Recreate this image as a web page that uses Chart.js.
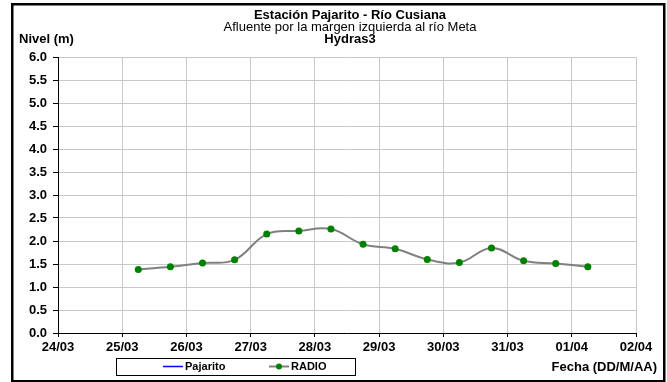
<!DOCTYPE html>
<html>
<head>
<meta charset="utf-8">
<script src="https://cdn.jsdelivr.net/npm/chart.js@4.4.1/dist/chart.umd.min.js"></script>
<style>
  html, body { margin: 0; padding: 0; background: #fff; }
  #wrap { width: 667px; height: 382px; position: relative; }
</style>
</head>
<body>
<div id="wrap"><canvas id="chart"></canvas></div>
<script>
const FONT = '"Liberation Sans", Arial, sans-serif';

// x axis: one tick per day, days counted from 24/03
const dayLabels = ["24/03", "25/03", "26/03", "27/03", "28/03", "29/03", "30/03", "31/03", "01/04", "02/04"];

// RADIO readings every 12 h (06:00 and 18:00), in days since 24/03
const radioDays = [1.25, 1.75, 2.25, 2.75, 3.25, 3.75, 4.25, 4.75, 5.25, 5.75, 6.25, 6.75, 7.25, 7.75, 8.25];
const radioLevel = [1.38, 1.44, 1.52, 1.59, 2.15, 2.22, 2.26, 1.93, 1.83, 1.60, 1.53, 1.85, 1.57, 1.51, 1.44];

// Pajarito has no readings in this window
const pajaritoLevel = [];

const titleLines = [
  { text: "Estación Pajarito - Río Cusiana", bold: true },
  { text: "Afluente por la margen izquierda al río Meta", bold: false },
  { text: "Hydras3", bold: true },
];
const yTitle = "Nivel (m)";
const xTitle = "Fecha (DD/M/AA)";

const COLORS = {
  pajarito: "#0000ff",
  radioLine: "#808080",
  radioPoint: "#008000",
  grid: "#c8c8c8",
  axis: "#000",
};

const decor = {
  id: "decor",
  afterDraw(chart) {
    const ctx = chart.ctx;
    ctx.save();
    ctx.fillStyle = "#000";
    ctx.textBaseline = "middle";

    // titles
    ctx.textAlign = "center";
    titleLines.forEach((l, i) => {
      ctx.font = (l.bold ? "bold " : "") + "13px " + FONT;
      ctx.fillText(l.text, 350, 15 + i * 12);
    });

    ctx.font = "bold 13px " + FONT;
    ctx.textAlign = "left";
    ctx.fillText(yTitle, 19, 39);
    ctx.textAlign = "right";
    ctx.fillText(xTitle, 657, 367);

    // legend box
    ctx.strokeStyle = "#000";
    ctx.lineWidth = 1;
    ctx.strokeRect(116.5, 358.5, 239, 17);

    const ds = chart.data.datasets;
    const slots = [163, 269];
    ctx.font = "bold 11px " + FONT;
    ctx.textAlign = "left";
    ds.forEach((d, i) => {
      const x0 = slots[i];
      ctx.strokeStyle = d.borderColor;
      ctx.lineWidth = i === 0 ? 1.5 : 2;
      ctx.beginPath();
      ctx.moveTo(x0, 366.5);
      ctx.lineTo(x0 + 20, 366.5);
      ctx.stroke();
      if (d.pointRadius) {
        ctx.fillStyle = d.pointBackgroundColor;
        ctx.beginPath();
        ctx.arc(x0 + 10, 366.5, 3, 0, Math.PI * 2);
        ctx.fill();
      }
      ctx.fillStyle = "#000";
      ctx.fillText(d.label, x0 + 22, 367);
    });

    // outer frame
    ctx.strokeStyle = "#000";
    ctx.lineWidth = 2.5;
    ctx.strokeRect(12.25, 4.25, 652, 377);
    ctx.restore();
  },
};

new Chart(document.getElementById("chart"), {
  type: "line",
  data: {
    datasets: [
      {
        label: "Pajarito",
        data: pajaritoLevel,
        borderColor: COLORS.pajarito,
        borderWidth: 1.5,
        pointRadius: 0,
      },
      {
        label: "RADIO",
        data: radioDays.map((d, i) => ({ x: d, y: radioLevel[i] })),
        borderColor: COLORS.radioLine,
        borderWidth: 2,
        tension: 0.4,
        pointRadius: 3.5,
        pointBackgroundColor: COLORS.radioPoint,
        pointBorderColor: COLORS.radioPoint,
        pointBorderWidth: 0,
      },
    ],
  },
  options: {
    responsive: true, maintainAspectRatio: false, animation: false,
    layout: { padding: { top: 57, right: 31, left: 0, bottom: 0 } },
    plugins: { legend: { display: false }, tooltip: { enabled: false } },
    scales: {
      x: {
        type: "linear", min: 0, max: 9,
        afterFit: (s) => { s.height = 49; },
        ticks: {
          stepSize: 1, autoSkip: false, maxRotation: 0, padding: 3,
          color: "#000", font: { family: FONT, size: 13, weight: "bold" },
          callback: (v) => dayLabels[v],
        },
        grid: { color: COLORS.grid, tickColor: COLORS.axis, tickLength: 4 },
        border: { color: COLORS.axis, width: 1 },
      },
      y: {
        min: 0, max: 6,
        afterFit: (s) => { s.width = 58; },
        ticks: {
          stepSize: 0.5, padding: 6,
          color: "#000", font: { family: FONT, size: 13, weight: "bold" },
          callback: (v) => v.toFixed(1),
        },
        grid: { color: COLORS.grid, tickColor: COLORS.axis, tickLength: 5 },
        border: { color: COLORS.axis, width: 1 },
      },
    },
  },
  plugins: [decor],
});
</script>
</body>
</html>
